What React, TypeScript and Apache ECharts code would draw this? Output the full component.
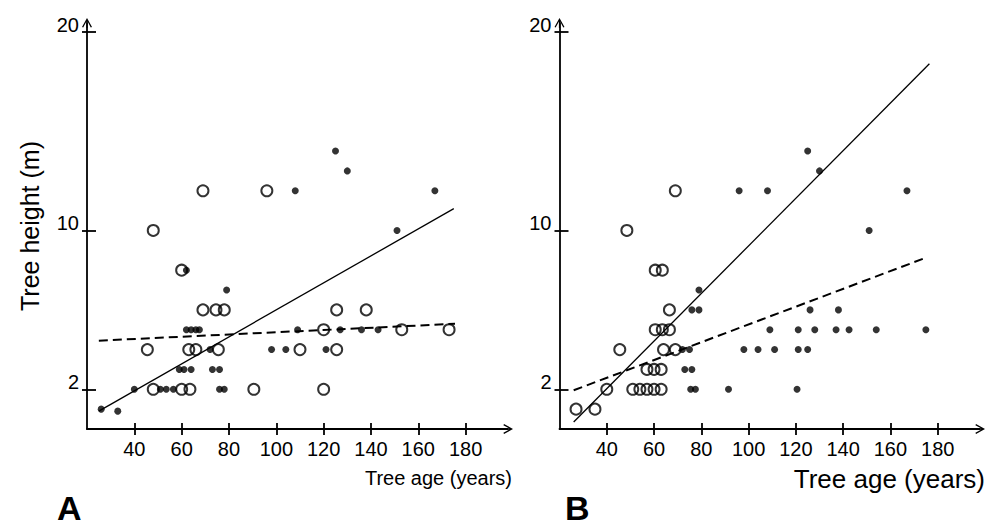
import React, { useEffect, useRef } from "react";
import * as echarts from "echarts";

// ---- data ----
const ageTicks = [40, 60, 80, 100, 120, 140, 160, 180];
const heightTicks = [2, 10, 20];

const panelAFilled: [number, number][] = [
  [26, 1], [33, 0.9],
  [40, 2], [51, 2], [53.5, 2], [56.5, 2], [76, 2], [78, 2],
  [59, 3], [61, 3], [64, 3], [73, 3], [76, 3],
  [72, 4], [98, 4], [104, 4], [121, 4],
  [62, 5], [64, 5], [66, 5], [67.5, 5], [109, 5], [127, 5], [136, 5], [143, 5],
  [79, 7], [62, 8], [151, 10],
  [108, 12], [167, 12], [130, 13], [125, 14],
];
const panelAOpen: [number, number][] = [
  [48, 2], [60, 2], [63.5, 2], [90.5, 2], [120, 2],
  [45.5, 4], [63, 4], [66, 4], [75.5, 4], [110, 4], [125.5, 4],
  [120, 5], [153, 5], [173, 5],
  [69, 6], [74.5, 6], [78, 6], [125.5, 6], [138, 6],
  [60, 8], [48, 10], [69, 12], [96, 12],
];
const panelASolidFit: [number, number][] = [[25, 0.9], [175, 11.1]];
const panelADashedFit: [number, number][] = [[25, 4.45], [175.5, 5.3]];

const panelBFilled: [number, number][] = [
  [75.5, 2], [77.5, 2], [91.5, 2], [120.5, 2],
  [73, 3], [76, 3],
  [72, 4], [75, 4], [98, 4], [104, 4], [111, 4], [121, 4], [125, 4],
  [109, 5], [121, 5], [128, 5], [137, 5], [142.5, 5], [154, 5], [175, 5],
  [76, 6], [79, 6], [126, 6], [138, 6],
  [79, 7], [151, 10],
  [96, 12], [108, 12], [167, 12], [130, 13], [125, 14],
];
const panelBOpen: [number, number][] = [
  [27, 1], [35, 1],
  [40, 2], [51, 2], [54, 2], [57, 2], [60, 2], [63, 2],
  [57, 3], [60, 3], [63, 3],
  [45.5, 4], [64, 4], [69, 4],
  [60.5, 5], [63.5, 5], [66.5, 5],
  [66.5, 6], [60.5, 8], [63.5, 8], [48.5, 10], [69, 12],
];
const panelBSolidFit: [number, number][] = [[26, 0.35], [176.5, 18.4]];
const panelBDashedFit: [number, number][] = [[26, 1.95], [175.5, 8.65]];

const FONT = "'Liberation Sans', Arial, Helvetica, sans-serif";
const CHEVRON =
  "path://M5,0 L10,9 L8.8,9.6 L5.6,3.6 L5.6,10 L4.4,10 L4.4,3.6 L1.2,9.6 L0,9 Z";
const X_MIN = 20;
const X_MAX = 197.9;
const Y_MIN = 0;
const Y_MAX = 20.45;
const AXIS_W = 1.8;

function buildOption() {
  const gridTop = 23;
  const gridH = 406;
  const grids = [
    { left: 87, top: gridTop, width: 421, height: gridH },
    { left: 87, top: gridTop, width: 421, height: gridH },
    { left: 559.5, top: gridTop, width: 420.5, height: gridH },
    { left: 559.5, top: gridTop, width: 420.5, height: gridH },
  ].map((g) => ({ ...g, containLabel: false, outerBoundsMode: "none" }));

  const mainX = (gridIndex: number) => ({
    type: "value",
    gridIndex,
    min: X_MIN,
    max: X_MAX,
    position: "bottom",
    axisLine: {
      show: true,
      onZero: false,
      symbol: ["none", CHEVRON],
      symbolSize: [10, 10],
      lineStyle: { color: "#000", width: AXIS_W },
    },
    axisTick: {
      show: true,
      customValues: ageTicks,
      length: 6,
      lineStyle: { color: "#000", width: AXIS_W },
    },
    axisLabel: {
      show: true,
      customValues: ageTicks,
      margin: 10,
      fontSize: 20,
      lineHeight: 20,
      color: "#000",
      fontFamily: FONT,
    },
    splitLine: { show: false },
  });
  const overlayX = (gridIndex: number) => ({
    type: "value",
    gridIndex,
    min: X_MIN,
    max: X_MAX,
    position: "bottom",
    axisLine: { show: false, onZero: false },
    axisTick: {
      show: true,
      inside: true,
      customValues: ageTicks,
      length: 6,
      lineStyle: { color: "#000", width: AXIS_W },
    },
    axisLabel: { show: false },
    splitLine: { show: false },
  });
  const mainY = (gridIndex: number, name: string) => ({
    type: "value",
    gridIndex,
    min: Y_MIN,
    max: Y_MAX,
    position: "left",
    name,
    nameLocation: "middle",
    nameGap: 45,
    nameTextStyle: { fontSize: 25, color: "#000", fontFamily: FONT },
    axisLine: {
      show: true,
      onZero: false,
      symbol: ["none", CHEVRON],
      symbolSize: [10, 10],
      lineStyle: { color: "#000", width: AXIS_W },
    },
    axisTick: {
      show: true,
      customValues: heightTicks,
      length: 5,
      lineStyle: { color: "#000", width: AXIS_W },
    },
    axisLabel: {
      show: true,
      customValues: heightTicks,
      margin: 8,
      fontSize: 20,
      lineHeight: 14,
      verticalAlign: "bottom",
      color: "#000",
      fontFamily: FONT,
    },
    splitLine: { show: false },
  });
  const overlayY = (gridIndex: number) => ({
    type: "value",
    gridIndex,
    min: Y_MIN,
    max: Y_MAX,
    position: "left",
    axisLine: { show: false, onZero: false },
    axisTick: {
      show: true,
      inside: true,
      customValues: heightTicks,
      length: 9,
      lineStyle: { color: "#000", width: AXIS_W },
    },
    axisLabel: { show: false },
    splitLine: { show: false },
  });

  const filled = (data: [number, number][], axis: number) => ({
    type: "scatter",
    xAxisIndex: axis,
    yAxisIndex: axis,
    data,
    symbol: "circle",
    symbolSize: 7,
    itemStyle: { color: "#000" },
    z: 4,
  });
  const open = (data: [number, number][], axis: number) => ({
    type: "scatter",
    xAxisIndex: axis,
    yAxisIndex: axis,
    data,
    symbol: "circle",
    symbolSize: 11,
    itemStyle: { color: "rgba(0,0,0,0)", borderColor: "#000", borderWidth: 2 },
    z: 3,
  });
  const fit = (data: [number, number][], axis: number, dashed: boolean) => ({
    type: "line",
    xAxisIndex: axis,
    yAxisIndex: axis,
    data,
    showSymbol: false,
    symbol: "none",
    lineStyle: {
      color: "#000",
      width: dashed ? 2 : 1.3,
      type: dashed ? [9, 5] : "solid",
    },
    z: 2,
  });

  return {
    animation: false,
    backgroundColor: "#fff",
    grid: grids,
    xAxis: [mainX(0), overlayX(1), mainX(2), overlayX(3)],
    yAxis: [mainY(0, "Tree height (m)"), overlayY(1), mainY(2, ""), overlayY(3)],
    series: [
      fit(panelASolidFit, 0, false),
      fit(panelADashedFit, 0, true),
      open(panelAOpen, 0),
      filled(panelAFilled, 0),
      fit(panelBSolidFit, 2, false),
      fit(panelBDashedFit, 2, true),
      open(panelBOpen, 2),
      filled(panelBFilled, 2),
    ],
    graphic: [
      {
        type: "text",
        x: 512,
        y: 478,
        style: {
          text: "Tree age (years)",
          fill: "#000",
          font: `20px ${FONT}`,
          textAlign: "right",
          align: "right",
          textVerticalAlign: "middle",
          verticalAlign: "middle",
        },
      },
      {
        type: "text",
        x: 985,
        y: 479,
        style: {
          text: "Tree age (years)",
          fill: "#000",
          font: `26px ${FONT}`,
          textAlign: "right",
          align: "right",
          textVerticalAlign: "middle",
          verticalAlign: "middle",
        },
      },
      {
        type: "text",
        x: 57,
        y: 508,
        style: {
          text: "A",
          fill: "#000",
          font: `bold 34px ${FONT}`,
          textAlign: "left",
          align: "left",
          textVerticalAlign: "middle",
          verticalAlign: "middle",
        },
      },
      {
        type: "text",
        x: 565,
        y: 508,
        style: {
          text: "B",
          fill: "#000",
          font: `bold 34px ${FONT}`,
          textAlign: "left",
          align: "left",
          textVerticalAlign: "middle",
          verticalAlign: "middle",
        },
      },
    ],
  };
}

export default function App() {
  const ref = useRef<HTMLDivElement>(null);
  useEffect(() => {
    if (!ref.current) return;
    const chart = echarts.init(ref.current, null, { renderer: "svg" });
    chart.setOption(buildOption() as any);
    return () => chart.dispose();
  }, []);
  return (
    <div
      ref={ref}
      style={{
        position: "fixed",
        left: 0,
        top: 0,
        width: 1002,
        height: 529,
        background: "#fff",
      }}
    />
  );
}
